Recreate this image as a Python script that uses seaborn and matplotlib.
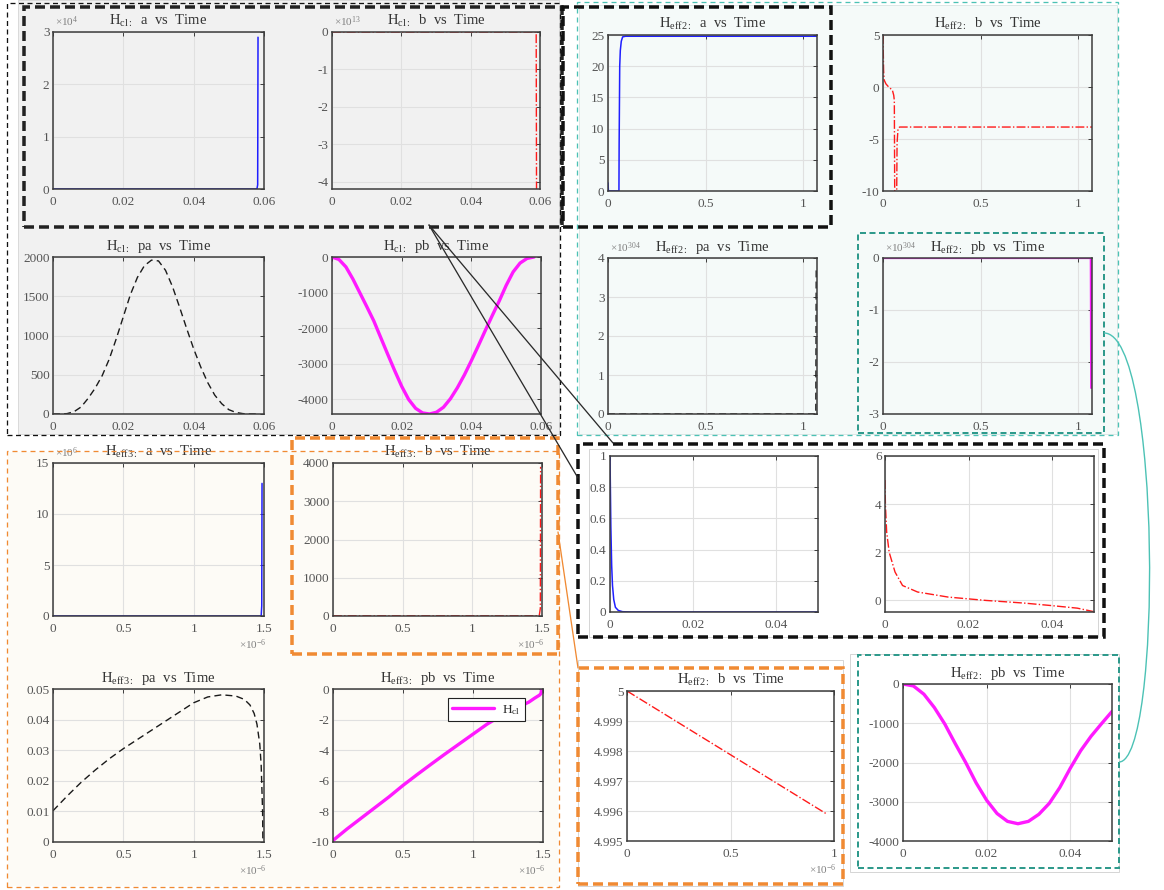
import numpy as np
import matplotlib
matplotlib.use("Agg")
import matplotlib.pyplot as plt
import seaborn as sns
from matplotlib.patches import Rectangle, PathPatch
from matplotlib.path import Path
from matplotlib.lines import Line2D
from matplotlib.ticker import FuncFormatter
from matplotlib.transforms import offset_copy

sns.set_style("white")
plt.rcParams.update({
    "font.family": ["Liberation Serif", "DejaVu Serif"],
    "mathtext.fontset": "custom",
    "mathtext.rm": "Liberation Serif",
    "mathtext.it": "Liberation Serif:italic",
    "mathtext.bf": "Liberation Serif:bold",
    "axes.unicode_minus": False,
})

# ---------------- H_cl trajectories ----------------
hcl_t_a = [0, 0.01, 0.02, 0.03, 0.04, 0.05, 0.0575, 0.0580, 0.0582, 0.0583]
hcl_a = [0, 0, 0, 0, 0, 0, 2, 40, 800, 29000]

hcl_t_b = [0, 0.01, 0.02, 0.03, 0.04, 0.05, 0.0585, 0.0589, 0.0590]
hcl_b = [0, 0, 0, 0, 0, 0, -1e9, -1e11, -4.3e13]

hcl_t_p = [0, 0.002, 0.004, 0.006, 0.008, 0.010, 0.012, 0.014, 0.016, 0.018,
           0.020, 0.022, 0.024, 0.026, 0.028, 0.030, 0.032, 0.034, 0.036, 0.038,
           0.040, 0.042, 0.044, 0.046, 0.048, 0.050, 0.052, 0.054, 0.056, 0.058]
hcl_pa = [0, 0, 5, 30, 90, 200, 330, 490, 700, 960,
          1240, 1520, 1740, 1890, 1960, 1950, 1830, 1620, 1360, 1090,
          830, 600, 400, 240, 130, 55, 20, 5, 0, 0]
hcl_pb = [0, -70, -280, -620, -1010, -1400, -1800, -2270, -2740, -3200,
          -3640, -4010, -4260, -4390, -4420, -4370, -4230, -3990, -3680, -3320,
          -2920, -2500, -2070, -1650, -1240, -800, -420, -170, -40, 0]

# ---------------- H_eff2 trajectories ----------------
heff2_t_a = [0, 0.002, 0.004, 0.056, 0.057, 0.060, 0.063, 0.068, 0.075, 0.09, 0.3, 0.6, 1.07]
heff2_a = [1.3, 0.1, 0, 0, 7.5, 20, 22.5, 24.0, 24.7, 24.8, 24.8, 24.8, 24.8]

heff2_t_b = [0, 0.003, 0.006, 0.015, 0.029, 0.048, 0.055, 0.058, 0.0600, 0.0700,
             0.072, 0.077, 0.085, 0.3, 0.6, 1.07]
heff2_b = [5.0, 1.6, 0.67, 0.3, 0.0, -0.3, -0.8, -1.3, -10.5, -10.5,
           -5.4, -4.0, -3.85, -3.85, -3.85, -3.85]

heff2_t_p = [0, 0.3, 0.6, 0.9, 1.064, 1.066]
heff2_pa = [0, 0, 0, 0, 0, 3.7e304]
heff2_pb = [0, 0, 0, 0, 0, -2.5e304]

# ---------------- H_eff3 trajectories ----------------
heff3_t_a = [0, 0.5e-6, 1.0e-6, 1.470e-6, 1.480e-6, 1.484e-6, 1.486e-6]
heff3_a = [0, 0, 0, 0, 2e4, 1e6, 1.3e7]

heff3_t_b = [0, 0.5e-6, 1.0e-6, 1.480e-6, 1.488e-6, 1.490e-6]
heff3_b = [5, 5, 5, 5, 200, 3900]

heff3_t_pa = [0, 0.1e-6, 0.2e-6, 0.3e-6, 0.4e-6, 0.5e-6, 0.6e-6, 0.7e-6, 0.8e-6, 0.9e-6,
              1.0e-6, 1.1e-6, 1.2e-6, 1.3e-6, 1.36e-6, 1.40e-6, 1.43e-6, 1.45e-6,
              1.47e-6, 1.48e-6, 1.49e-6, 1.492e-6]
heff3_pa = [0.0102, 0.0150, 0.0195, 0.0235, 0.0272, 0.0305, 0.0335, 0.0365, 0.0395, 0.0425,
            0.0455, 0.0474, 0.0481, 0.0477, 0.0466, 0.0448, 0.0420, 0.0385,
            0.0320, 0.0250, 0.0100, 0.0]

heff3_t_pb = [0, 0.1e-6, 0.2e-6, 0.3e-6, 0.4e-6, 0.5e-6, 0.6e-6, 0.7e-6, 0.8e-6,
              0.9e-6, 1.0e-6, 1.1e-6, 1.2e-6, 1.3e-6, 1.4e-6, 1.44e-6,
              1.475e-6, 1.485e-6, 1.49e-6, 1.495e-6]
heff3_pb = [-9.9, -9.15, -8.45, -7.75, -7.05, -6.3, -5.6, -4.92, -4.25,
            -3.6, -2.95, -2.3, -1.75, -1.3, -0.85, -0.6,
            -0.4, -0.3, -0.05, 0.0]

# ---------------- H_eff2, early-time detail ----------------
early_t_a = [0, 0.0002, 0.0004, 0.0006, 0.0009, 0.0013, 0.002, 0.003, 0.005, 0.02, 0.035, 0.05]
early_a = [1.0, 0.55, 0.3, 0.17, 0.08, 0.03, 0.01, 0.002, 0.0, 0.0, 0.0, 0.0]

early_t_b = [0, 0.0001, 0.0004, 0.001, 0.0024, 0.0042, 0.0078, 0.0151, 0.0242,
             0.0333, 0.0396, 0.046, 0.0498]
early_b = [5.0, 3.95, 2.84, 2.0, 1.18, 0.62, 0.35, 0.14, 0.0, -0.11, -0.21, -0.32, -0.46]

micro_t_b = [0, 0.2e-6, 0.4e-6, 0.6e-6, 0.8e-6, 0.96e-6]
micro_b = [5.0, 4.99915, 4.99830, 4.99745, 4.99660, 4.99592]

early_t_pb = [0, 0.0025, 0.005, 0.0075, 0.010, 0.0125, 0.015, 0.0175, 0.020, 0.0225,
              0.025, 0.0275, 0.030, 0.0325, 0.035, 0.0375, 0.040, 0.0425, 0.045,
              0.0475, 0.050]
early_pb = [0, -50, -260, -600, -1020, -1520, -2000, -2520, -2960, -3300,
            -3500, -3560, -3500, -3320, -3040, -2640, -2150, -1700, -1330,
            -1010, -700]

legend_label = r"H$_{\mathrm{cl}}$"

# ---------------- figure helpers ----------------
W, H = 1164, 890
fig = plt.figure(figsize=(W / 100, H / 100), dpi=100, facecolor="white")


def fx(x):
    return x / W


def fy(y):
    return 1 - y / H


def region(x0, y0, x1, y1, fc, ec="none", lw=0.0):
    fig.add_artist(Rectangle((fx(x0), fy(y1)), fx(x1) - fx(x0), fy(y0) - fy(y1),
                             transform=fig.transFigure, facecolor=fc, edgecolor=ec,
                             linewidth=lw, zorder=-10))


def dashed_box(x0, y0, x1, y1, color, lw_px, dash_px, gap_px):
    fig.add_artist(Rectangle((fx(x0), fy(y1)), fx(x1) - fx(x0), fy(y0) - fy(y1),
                             transform=fig.transFigure, fill=False, edgecolor=color,
                             linewidth=lw_px * 0.72,
                             linestyle=(0, (dash_px / lw_px, gap_px / lw_px)),
                             zorder=10))


def connector(x0, y0, x1, y1, color, lw_px=1.3):
    fig.add_artist(Line2D([fx(x0), fx(x1)], [fy(y0), fy(y1)], transform=fig.transFigure,
                          color=color, linewidth=lw_px * 0.72, zorder=11))


def tick_fmt(k):
    return FuncFormatter(lambda v, p: "%g" % round(v / 10.0 ** k, 6))


def panel(box, fc, title, t, v, color, ls, lw, xlim, xticks, ylim, yticks,
          xexp=0, yexp=0, label=None):
    x0, y0, x1, y1 = box
    ax = fig.add_axes([fx(x0), fy(y1), fx(x1) - fx(x0), fy(y0) - fy(y1)])
    ax.set_facecolor(fc)
    kw = dict(color=color, linestyle=ls, linewidth=lw, estimator=None, sort=False,
              solid_joinstyle="round", solid_capstyle="round")
    if label:
        kw["label"] = label
    sns.lineplot(x=np.asarray(t, float), y=np.asarray(v, float), ax=ax, **kw)
    ax.set_xlim(xlim)
    ax.set_ylim(ylim)
    ax.set_xticks(xticks)
    ax.set_yticks(yticks)
    ax.xaxis.set_major_formatter(tick_fmt(xexp))
    ax.yaxis.set_major_formatter(tick_fmt(yexp))
    ax.set_xlabel("")
    ax.set_ylabel("")
    ax.grid(True, color="#e0e0e0", linewidth=0.8)
    ax.set_axisbelow(True)
    for s in ax.spines.values():
        s.set_visible(True)
        s.set_color("#3c3c3c")
        s.set_linewidth(1.1)
    ax.tick_params(direction="in", top=True, right=True, length=3, width=0.7,
                   color="#3c3c3c", labelcolor="#555555", labelsize=9.5)
    ax.tick_params(axis="x", pad=5)
    ax.tick_params(axis="y", pad=2.5)
    if title:
        ax.set_title(title, fontsize=10.5, color="#333333", pad=5)
    if yexp:
        ax.text(0.0, 1.0, "×10$^{%d}$" % yexp, fontsize=8, color="#808080",
                ha="left", va="bottom",
                transform=offset_copy(ax.transAxes, fig=fig, x=2, y=3, units="dots"))
    if xexp:
        ax.text(1.0, 0.0, "×10$^{%d}$" % xexp, fontsize=8, color="#808080",
                ha="right", va="top",
                transform=offset_copy(ax.transAxes, fig=fig, x=3, y=-21, units="dots"))
    return ax


# ---------------- background regions ----------------
GRAY, MINT, CREAM = "#f1f1f1", "#f5faf9", "#fdfbf6"
region(18, 0, 559, 434, GRAY, "#d5d5d5", 0.6)
region(579, 5, 1117, 434, MINT, "#d8e4e2", 0.6)
region(8, 452, 558, 886, CREAM)
region(589, 449, 1098, 637, "white", "#cfcfcf", 0.6)
region(578, 660, 843, 886, "white", "#cfcfcf", 0.6)
region(850, 654, 1119, 872, "white", "#cfcfcf", 0.6)

# ---------------- panels ----------------
blue, red, black, mag = "#1f1fff", "#ff1a1a", "#1a1a1a", "#ff1aff"
dashdot = "-."
dashed = (0, (5, 3))
x06 = [0, 0.02, 0.04, 0.06]
x107 = [0, 0.5, 1]
x15 = [0, 0.5e-6, 1.0e-6, 1.5e-6]
x05 = [0, 0.02, 0.04]

panel((53, 32, 264, 189), GRAY, r"$\mathrm{H}_{\mathrm{cl:}}$  a  vs  Time",
      hcl_t_a, hcl_a, blue, "-", 1.1, (0, 0.06), x06, (0, 3e4), [0, 1e4, 2e4, 3e4], yexp=4)
panel((332, 32, 540, 189), GRAY, r"$\mathrm{H}_{\mathrm{cl:}}$  b  vs  Time",
      hcl_t_b, hcl_b, red, dashdot, 1.0, (0, 0.06), x06, (-4.2e13, 0),
      [-4e13, -3e13, -2e13, -1e13, 0], yexp=13)
panel((608, 35, 817, 191), MINT, r"$\mathrm{H}_{\mathrm{eff2:}}$  a  vs  Time",
      heff2_t_a, heff2_a, blue, "-", 1.1, (0, 1.07), x107, (0, 25), [0, 5, 10, 15, 20, 25])
panel((883, 35, 1092, 191), MINT, r"$\mathrm{H}_{\mathrm{eff2:}}$  b  vs  Time",
      heff2_t_b, heff2_b, red, dashdot, 1.0, (0, 1.07), x107, (-10, 5), [-10, -5, 0, 5])

panel((53, 257, 264, 414), GRAY, r"$\mathrm{H}_{\mathrm{cl:}}$  pa  vs  Time",
      hcl_t_p, hcl_pa, black, dashed, 1.0, (0, 0.06), x06, (0, 2000),
      [0, 500, 1000, 1500, 2000])
panel((332, 257, 541, 414), GRAY, r"$\mathrm{H}_{\mathrm{cl:}}$  pb  vs  Time",
      hcl_t_p, hcl_pb, mag, "-", 2.4, (0, 0.06), x06, (-4420, 0),
      [-4000, -3000, -2000, -1000, 0])
panel((608, 258, 817, 414), MINT, r"$\mathrm{H}_{\mathrm{eff2:}}$  pa  vs  Time",
      heff2_t_p, heff2_pa, black, dashed, 1.0, (0, 1.07), x107, (0, 4e304),
      [0, 1e304, 2e304, 3e304, 4e304], yexp=304)
panel((883, 258, 1092, 414), MINT, r"$\mathrm{H}_{\mathrm{eff2:}}$  pb  vs  Time",
      heff2_t_p, heff2_pb, mag, "-", 1.6, (0, 1.07), x107, (-3e304, 0),
      [-3e304, -2e304, -1e304, 0], yexp=304)

panel((53, 463, 264, 616), CREAM, r"$\mathrm{H}_{\mathrm{eff3:}}$  a  vs  Time",
      heff3_t_a, heff3_a, blue, "-", 1.1, (0, 1.5e-6), x15, (0, 1.5e7),
      [0, 5e6, 1e7, 1.5e7], xexp=-6, yexp=6)
panel((333, 463, 542, 616), CREAM, r"$\mathrm{H}_{\mathrm{eff3:}}$  b  vs  Time",
      heff3_t_b, heff3_b, red, dashdot, 1.0, (0, 1.5e-6), x15, (0, 4000),
      [0, 1000, 2000, 3000, 4000], xexp=-6)
panel((610, 456, 818, 612), "white", None,
      early_t_a, early_a, blue, "-", 1.1, (0, 0.05), x05, (0, 1),
      [0, 0.2, 0.4, 0.6, 0.8, 1])
panel((885, 456, 1094, 612), "white", None,
      early_t_b, early_b, red, dashdot, 1.0, (0, 0.05), x05, (-0.48, 6), [0, 2, 4, 6])

panel((53, 689, 264, 842), CREAM, r"$\mathrm{H}_{\mathrm{eff3:}}$  pa  vs  Time",
      heff3_t_pa, heff3_pa, black, dashed, 1.0, (0, 1.5e-6), x15, (0, 0.05),
      [0, 0.01, 0.02, 0.03, 0.04, 0.05], xexp=-6)
ax14 = panel((333, 689, 543, 842), CREAM, r"$\mathrm{H}_{\mathrm{eff3:}}$  pb  vs  Time",
             heff3_t_pb, heff3_pb, mag, "-", 2.4, (0, 1.5e-6), x15, (-10, 0),
             [-10, -8, -6, -4, -2, 0], xexp=-6, label=legend_label)
leg = ax14.legend(loc="upper right", bbox_to_anchor=(0.915, 0.94), borderaxespad=0,
                  fancybox=False, framealpha=1, edgecolor="#222222", fontsize=9.5,
                  handlelength=3.2, borderpad=0.35, handletextpad=0.6)
leg.get_frame().set_linewidth(0.8)

panel((627, 691, 834, 841), "white", r"$\mathrm{H}_{\mathrm{eff2:}}$  b  vs  Time",
      micro_t_b, micro_b, red, dashdot, 1.0, (0, 1e-6), [0, 0.5e-6, 1e-6], (4.995, 5.0),
      [4.995, 4.996, 4.997, 4.998, 4.999, 5.0], xexp=-6)
panel((903, 684, 1112, 841), "white", r"$\mathrm{H}_{\mathrm{eff2:}}$  pb  vs  Time",
      early_t_pb, early_pb, mag, "-", 2.4, (0, 0.05), x05, (-4000, 0),
      [-4000, -3000, -2000, -1000, 0])

# ---------------- frames and connectors ----------------
TEAL_L, TEAL_D = "#4cc2b5", "#2f9a8c"
ORANGE = "#f08a33"
dashed_box(7, 3, 560, 435, "#111111", 1.3, 5, 3.5)
dashed_box(24, 7, 562, 227, "#222222", 3.5, 10, 5)
dashed_box(563, 7, 831, 227, "#111111", 3.5, 10, 5)
dashed_box(577, 2, 1118, 435, TEAL_L, 1.3, 5, 4)
dashed_box(858, 233, 1104, 433, TEAL_D, 2.0, 6, 3.5)
dashed_box(7, 451, 559, 887, ORANGE, 1.3, 5, 4)
dashed_box(292, 438, 558, 654, ORANGE, 3.5, 10, 5)
dashed_box(578, 444, 1104, 637, "#111111", 3.5, 10, 5)
dashed_box(578, 668, 843, 884, ORANGE, 3.5, 10, 5)
dashed_box(858, 655, 1119, 868, TEAL_D, 2.0, 6, 3.5)

connector(429, 225, 613, 443, "#2a2a2a")
connector(429, 225, 578, 478, "#2a2a2a")
connector(558, 532, 578, 668, ORANGE)

arc = Path([(fx(1104), fy(333)), (fx(1162), fy(333)), (fx(1162), fy(762)), (fx(1119), fy(762))],
           [Path.MOVETO, Path.CURVE4, Path.CURVE4, Path.CURVE4])
fig.add_artist(PathPatch(arc, transform=fig.transFigure, fill=False, edgecolor=TEAL_L,
                         linewidth=1.0, zorder=11))

fig.savefig("out.png", dpi=100, facecolor="white")
